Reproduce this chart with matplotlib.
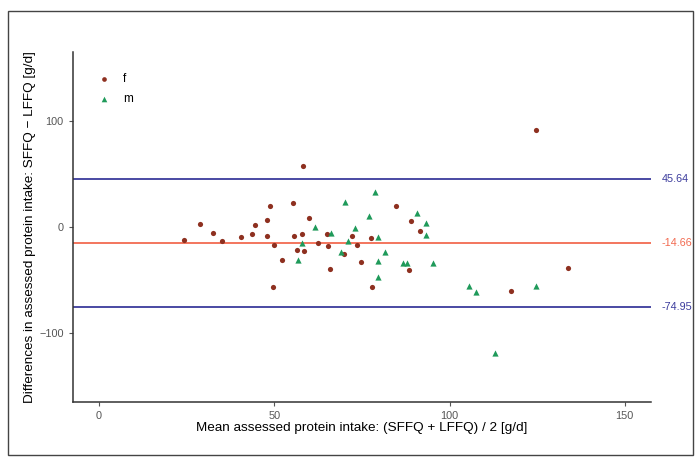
import matplotlib.pyplot as plt
from matplotlib.patches import Rectangle

# mean intake (x) and difference (y)
f_mean = [24.1, 28.8, 32.5, 35.1, 40.5, 43.6, 44.4, 47.9, 48.9, 48.0, 50.0, 52.1,
          49.7, 55.2, 55.5, 56.4, 57.8, 58.4, 58.3, 59.9, 62.6, 65.1, 65.4, 66.0,
          72.2, 73.7, 69.8, 74.7, 77.7, 78.0, 84.6, 88.9, 91.5, 88.4, 124.6, 133.7, 117.6]
f_diff = [-12.2, 2.8, -5.6, -12.9, -9.1, -6.3, 1.9, 6.6, 19.5, -8.2, -16.6, -31.3,
          -56.4, 22.9, -8.8, -21.3, -6.3, -22.6, 58.0, 8.2, -15.4, -6.3, -17.6, -39.2,
          -8.5, -16.6, -25.7, -32.6, -10.1, -56.7, 19.8, 5.4, -3.8, -40.5, 91.3, -38.3, -60.2]

m_mean = [56.8, 57.8, 61.5, 66.3, 70.1, 73.0, 71.0, 69.1, 78.7, 76.9, 79.7, 81.7,
          79.6, 79.6, 90.6, 86.8, 88.0, 93.3, 93.3, 95.4, 105.5, 107.5, 124.6, 112.9]
m_diff = [-31.3, -14.7, -0.3, -5.3, 23.5, -1.3, -12.9, -23.2, 32.6, 10.3, -9.4, -23.5,
          -31.7, -47.3, 12.9, -33.6, -34.2, 3.5, -7.5, -34.2, -55.2, -61.1, -55.2, -119.2]

bias = -14.66
upper = 45.64
lower = -74.95

blue = '#3b3b9c'
red = '#f26a50'
brown = '#8e3020'
green = '#1f9a5a'

plt.rcParams['font.family'] = ['Liberation Sans', 'DejaVu Sans']

fig = plt.figure(figsize=(7, 4.61), dpi=100)
ax = fig.add_axes([0.104, 0.128, 0.826, 0.759])

ax.axhline(upper, color=blue, lw=1.3, zorder=1)
ax.axhline(bias, color=red, lw=1.3, zorder=1)
ax.axhline(lower, color=blue, lw=1.3, zorder=1)

ax.scatter(f_mean, f_diff, s=14, marker='o', color=brown, label='f', zorder=3, linewidths=0)
ax.scatter(m_mean, m_diff, s=20, marker='^', color=green, label='m', zorder=3, linewidths=0)

tr = ax.get_yaxis_transform()
ax.text(1.018, upper, '45.64', transform=tr, color=blue, fontsize=7.8, va='center')
ax.text(1.018, bias, '-14.66', transform=tr, color=red, fontsize=7.8, va='center')
ax.text(1.018, lower, '-74.95', transform=tr, color=blue, fontsize=7.8, va='center')

ax.set_xlim(-7.5, 157.5)
ax.set_ylim(-165, 165)
ax.set_xticks([0, 50, 100, 150])
ax.set_yticks([-100, 0, 100])
ax.spines['top'].set_visible(False)
ax.spines['right'].set_visible(False)
for s in ['left', 'bottom']:
    ax.spines[s].set_color('#333333')
    ax.spines[s].set_linewidth(1.1)
ax.tick_params(colors='#555555', labelsize=7.8, length=3, width=0.8)

ax.set_xlabel('Mean assessed protein intake: (SFFQ + LFFQ) / 2 [g/d]', fontsize=9.7, labelpad=1)
ax.set_ylabel('Differences in assessed protein intake: SFFQ \u2212 LFFQ [g/d]', fontsize=9.7, labelpad=2)

ax.legend(loc='upper left', bbox_to_anchor=(0.015, 0.97), frameon=False, fontsize=8.5,
          handletextpad=0.6, labelspacing=0.7, markerscale=0.9)

fig.patches.append(Rectangle((8 / 700, 6 / 461), 685 / 700, 444 / 461, transform=fig.transFigure,
                             fill=False, edgecolor='#444444', lw=1))

fig.savefig('out.png', dpi=100)
